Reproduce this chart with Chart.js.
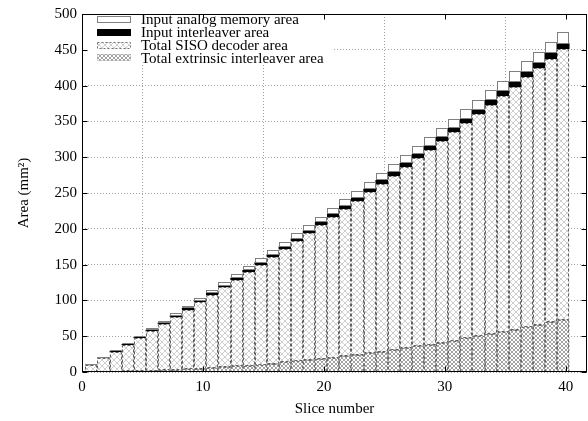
<!DOCTYPE html>
<html><head><meta charset="utf-8">
<script src="https://cdn.jsdelivr.net/npm/chart.js@4.4.0/dist/chart.umd.min.js"></script>
<style>html,body{margin:0;padding:0;background:#fff}#wrap{width:588px;height:421px}</style>
</head><body><div id="wrap"><canvas id="c" width="588" height="421"></canvas></div>
<script>
const slices = [1,2,3,4,5,6,7,8,9,10,11,12,13,14,15,16,17,18,19,20,21,22,23,24,25,26,27,28,29,30,31,32,33,34,35,36,37,38,39,40];
const extrinsicInterleaverArea = [0.0,0.2,0.4,0.7,1.2,1.7,2.3,3.0,3.8,4.7,5.6,6.7,7.8,9.0,10.4,11.8,13.3,14.9,16.6,18.3,20.2,22.1,24.2,26.3,28.6,30.9,33.3,35.8,38.4,41.1,43.9,46.8,49.8,52.8,56.0,59.2,62.6,66.0,69.5,73.1];
const sisoDecoderArea = [9.9,19.2,27.9,37.2,46.2,55.5,64.8,74.1,83.4,92.8,102.1,111.5,120.8,130.2,139.6,149.0,158.4,167.8,177.2,186.6,196.1,205.6,215.0,224.5,234.0,243.5,253.0,262.6,272.1,281.6,291.2,300.8,310.4,320.0,329.6,339.2,348.8,358.5,368.1,377.8];
const inputInterleaverArea = [0.2,0.4,0.6,0.8,1.0,1.2,1.4,1.6,1.8,2.0,2.1,2.3,2.5,2.7,2.9,3.1,3.3,3.5,3.7,3.9,4.1,4.3,4.5,4.7,4.9,5.1,5.3,5.5,5.7,5.9,6.0,6.2,6.4,6.6,6.8,7.0,7.2,7.4,7.6,7.8];
const analogMemoryArea = [0.4,0.8,1.2,1.6,2.1,2.5,2.9,3.3,3.7,4.1,4.5,4.9,5.3,5.7,6.2,6.6,7.0,7.4,7.8,8.2,8.6,9.0,9.4,9.8,10.3,10.7,11.1,11.5,11.9,12.3,12.7,13.1,13.5,13.9,14.4,14.8,15.2,15.6,16.0,16.4];
const xTickValues = [0,10,20,30,40];
const yTickValues = [0,50,100,150,200,250,300,350,400,450,500];
const labels = {
  analog: 'Input analog memory area',
  interleaver: 'Input interleaver area',
  siso: 'Total SISO decoder area',
  extrinsic: 'Total extrinsic interleaver area'
};

const FONT = "'Liberation Serif', 'Times New Roman', serif";
const BAR_SHIFT = -0.22;

function makePattern(size, color, step, dense) {
  const c = document.createElement('canvas');
  c.width = size; c.height = size;
  const g = c.getContext('2d');
  g.fillStyle = '#fff'; g.fillRect(0,0,size,size);
  g.fillStyle = color;
  for (let i = 0; i < size; i += step) {
    g.fillRect(i, i, 1, 1);
    g.fillRect(size - 1 - i, i, 1, 1);
  }
  if (dense) {
    const h = size/2;
    for (let i = 0; i < size; i += step) {
      g.fillRect((i + h) % size, i, 1, 1);
      g.fillRect((size - 1 - i + h) % size, i, 1, 1);
    }
  }
  return g.createPattern(c, 'repeat');
}
const sisoPattern = makePattern(6, '#cfcfcf', 1, false);
const extrPattern = makePattern(8, '#a4a4a4', 1, true);

function pts(arr){ return slices.map((s,i)=>({x:s+BAR_SHIFT, y:arr[i]})); }

const outlineStyles = [
  {color:'#707070', dash:[3,2]},
  {color:'#606060', dash:[3,2]},
  {color:'#000000', dash:[]},
  {color:'#808080', dash:[]}
];

const outlinePlugin = {
  id:'outlines',
  afterDatasetsDraw(chart){
    const ctx = chart.ctx;
    ctx.save();
    chart.data.datasets.forEach((ds, di) => {
      const st = outlineStyles[di];
      const meta = chart.getDatasetMeta(di);
      ctx.strokeStyle = st.color; ctx.lineWidth = 1; ctx.setLineDash(st.dash);
      meta.data.forEach(el => {
        const l = Math.round(el.x - el.width/2) + 0.5;
        const r = Math.round(el.x + el.width/2) - 0.5;
        const t = Math.round(el.y) + 0.5;
        const b = Math.round(el.base) - 0.5;
        if (b < t) return;
        ctx.strokeRect(l, t, r - l, Math.max(b - t, 0));
      });
    });
    ctx.restore();
  }
};

const framePlugin = {
  id:'frame',
  afterDraw(chart){
    const ctx = chart.ctx, a = chart.chartArea;
    const xs = chart.scales.x, ys = chart.scales.y;
    ctx.save();
    // legend
    ctx.fillStyle = '#fff';
    ctx.fillRect(84, 11, 250, 54);
    const rows = [
      {t:labels.analog, fill:'#fff', stroke:'#808080', dash:[]},
      {t:labels.interleaver, fill:'#000', stroke:'#000', dash:[]},
      {t:labels.siso, fill:sisoPattern, stroke:'#707070', dash:[2,2]},
      {t:labels.extrinsic, fill:extrPattern, stroke:'#b0b0b0', dash:[1,1]}
    ];
    ctx.font = '15px ' + FONT;
    ctx.textBaseline = 'middle';
    rows.forEach((r,i) => {
      const cy = 19.5 + i*12.8;
      const y0 = Math.round(cy - 3.5);
      ctx.fillStyle = r.fill;
      ctx.fillRect(97, y0, 34, 7);
      ctx.strokeStyle = r.stroke; ctx.lineWidth = 1; ctx.setLineDash(r.dash);
      ctx.strokeRect(97.5, y0 + 0.5, 33, 6);
      ctx.setLineDash([]);
      ctx.fillStyle = '#000';
      ctx.fillText(r.t, 141, cy + 1);
    });
    // frame
    ctx.strokeStyle = '#000'; ctx.lineWidth = 1; ctx.setLineDash([]);
    const L = Math.round(a.left) + 0.5, R = Math.round(a.right) - 0.5;
    const T = Math.round(a.top) + 0.5, B = Math.round(a.bottom) - 0.5;
    ctx.strokeRect(L, T, R - L, B - T);
    // inward ticks
    const tl = 5;
    ctx.beginPath();
    yTickValues.forEach(v => {
      const y = Math.round(ys.getPixelForValue(v)) + 0.5;
      ctx.moveTo(L, y); ctx.lineTo(L + tl, y);
      ctx.moveTo(R, y); ctx.lineTo(R - tl, y);
    });
    xTickValues.forEach(v => {
      const x = Math.round(xs.getPixelForValue(v)) + 0.5;
      ctx.moveTo(x, B); ctx.lineTo(x, B - tl);
      ctx.moveTo(x, T); ctx.lineTo(x, T + tl);
    });
    ctx.stroke();
    ctx.restore();
  }
};

new Chart(document.getElementById('c'), {
  type:'bar',
  data:{
    datasets:[
      {label:labels.extrinsic, data:pts(extrinsicInterleaverArea), backgroundColor:extrPattern, borderWidth:0},
      {label:labels.siso, data:pts(sisoDecoderArea), backgroundColor:sisoPattern, borderWidth:0},
      {label:labels.interleaver, data:pts(inputInterleaverArea), backgroundColor:'#000', borderWidth:0},
      {label:labels.analog, data:pts(analogMemoryArea), backgroundColor:'#fff', borderWidth:0}
    ]
  },
  options:{
    responsive:false, animation:false, devicePixelRatio:1,
    barPercentage:1, categoryPercentage:1,
    layout:{padding:{top:8, right:1, left:0, bottom:0}},
    plugins:{legend:{display:false}, tooltip:{enabled:false}},
    scales:{
      x:{
        type:'linear', stacked:true, min:0, max:41.75, offset:false,
        afterBuildTicks: s => { s.ticks = xTickValues.map(v=>({value:v})); },
        afterFit: s => { s.height = 49; },
        ticks:{font:{family:FONT, size:15}, color:'#000', padding:6, maxRotation:0, autoSkip:false},
        grid:{color:'#a0a0a0', drawTicks:false, lineWidth:1},
        border:{display:false, dash:[1,2]},
        title:{display:true, text:'Slice number', font:{family:FONT, size:15}, color:'#000', padding:{top:0,bottom:3}}
      },
      y:{
        type:'linear', stacked:true, min:0, max:500,
        afterBuildTicks: s => { s.ticks = yTickValues.map(v=>({value:v})); },
        afterFit: s => { s.width = 82; },
        ticks:{font:{family:FONT, size:15}, color:'#000', padding:5},
        grid:{color:'#a0a0a0', drawTicks:false, lineWidth:1},
        border:{display:false, dash:[1,2]},
        title:{display:true, text:'Area (mm²)', font:{family:FONT, size:15}, color:'#000', padding:{top:15,bottom:0}}
      }
    }
  },
  plugins:[outlinePlugin, framePlugin]
});
</script></body></html>
